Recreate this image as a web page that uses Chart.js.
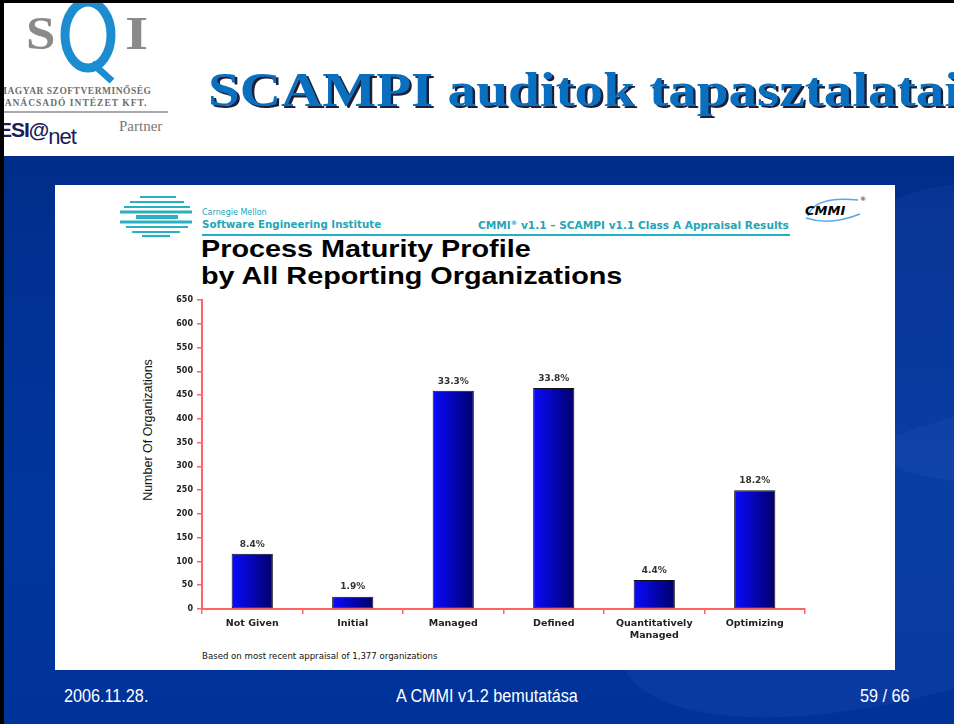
<!DOCTYPE html>
<html>
<head>
<meta charset="utf-8">
<script src="https://cdn.jsdelivr.net/npm/chart.js@4"></script>
<style>
    html, body { margin: 0; padding: 0; }
    body { width: 954px; height: 724px; overflow: hidden; position: relative; background: #000; }
    .slide { position: absolute; left: 4px; top: 3px; right: 0; bottom: 0; overflow: hidden;
        background: linear-gradient(180deg, #00287a 0%, #002f8f 30%, #00379e 70%, #003399 100%); }
    .header { position: absolute; left: 0; top: 0; right: 0; height: 153px; background: #fff; }
    .abs { position: absolute; white-space: nowrap; }
    .swoosh { position: absolute; border-radius: 50%; background: rgba(120, 160, 255, 0.07); }
    .panel { position: absolute; left: 51px; top: 182px; width: 840px; height: 485px; background: #fff; }
    .chart-box { position: absolute; left: 130px; top: 290px; width: 700px; height: 360px; }
    .footer { color: #fff; font-family: 'Liberation Sans', Arial, sans-serif; font-size: 18px; top: 686px; }
</style>
</head>
<body>
<div class="slide">
    <div class="swoosh" style="left:600px; top:420px; width:700px; height:260px; transform: rotate(-18deg);"></div>
    <div class="swoosh" style="left:780px; top:180px; width:400px; height:300px;"></div>

    <div class="header">
        <!-- SQI logo -->
        <div class="abs" style="left:22px; top:4px; font: bold 46px 'Liberation Serif', serif; color:#8a8a8a; transform: scaleX(1.15); transform-origin: left;">S</div>
        <svg class="abs" style="left:52px; top:-8px;" width="70" height="92">
            <ellipse cx="32" cy="40" rx="23" ry="33" fill="none" stroke="#1c8ed0" stroke-width="9"/>
            <line x1="36" y1="68" x2="56" y2="86" stroke="#1c8ed0" stroke-width="7"/>
        </svg>
        <div class="abs" style="left:121px; top:4px; font: bold 46px 'Liberation Serif', serif; color:#8a8a8a; transform: scaleX(1.3); transform-origin: left;">I</div>
        <div class="abs" style="left:-6px; top:83px; font: bold 9.5px 'Liberation Serif', serif; color:#6e6e6e; letter-spacing:0.5px;">MAGYAR SZOFTVERMINŐSÉG</div>
        <div class="abs" style="left:-6px; top:95px; font: bold 9.5px 'Liberation Serif', serif; color:#6e6e6e; letter-spacing:1px;">TANÁCSADÓ INTÉZET KFT.</div>
        <div class="abs" style="left:-4px; top:108px; width:168px; height:2px; background:#aaa;"></div>
        <div class="abs" style="left:-6px; top:114px; font: bold 21px 'Liberation Sans', sans-serif; color:#1b1b5e; letter-spacing:-1px;">ESI@<span style="font-weight:normal; font-size:22px; position:relative; top:7px;">net</span></div>
        <div class="abs" style="left:115px; top:115px; font: 15px 'Liberation Serif', serif; color:#777;">Partner</div>

        <!-- title -->
        <div class="abs" style="left:204px; top:63px; font: bold 48px/48px 'Liberation Serif', serif; color:#0b6fc0; text-shadow: 2px 2px 0 #1b1f3a; transform: scaleX(1.19); transform-origin: left;">SCAMPI auditok tapasztalatai</div>
    </div>

    <div class="panel"></div>
</div>

<!-- panel contents (page coordinates) -->
<svg class="abs" style="left:118px; top:195px;" width="76" height="44">
    <g stroke="#2ab0c2">
        <line x1="22" y1="2" x2="58" y2="2" stroke-width="2.2"/>
        <line x1="12" y1="7" x2="66" y2="7" stroke-width="2.2"/>
        <line x1="6" y1="12" x2="72" y2="12" stroke-width="2.2"/>
        <line x1="2" y1="17" x2="74" y2="17" stroke-width="3"/>
        <line x1="18" y1="22" x2="60" y2="22" stroke-width="4"/>
        <line x1="2" y1="27" x2="74" y2="27" stroke-width="3"/>
        <line x1="8" y1="32" x2="70" y2="32" stroke-width="2.2"/>
        <line x1="14" y1="37" x2="62" y2="37" stroke-width="2.2"/>
        <line x1="24" y1="41" x2="52" y2="41" stroke-width="2.2"/>
    </g>
</svg>
<div class="abs" style="left:202px; top:208px; font: 8px 'DejaVu Sans', sans-serif; color:#22a6b8;">Carnegie Mellon</div>
<div class="abs" style="left:202px; top:219px; font: bold 9.8px 'DejaVu Sans', sans-serif; color:#22a6b8; transform: scaleX(1.05); transform-origin: left;">Software Engineering Institute</div>
<div class="abs" style="left:478px; top:219px; font: bold 9.8px 'DejaVu Sans', sans-serif; color:#22a6b8; transform: scaleX(1.08); transform-origin: left;">CMMI<sup style="font-size:6px;">®</sup> v1.1 – SCAMPI v1.1 Class A Appraisal Results</div>
<div class="abs" style="left:202px; top:234px; width:588px; height:1.5px; background:#22b0c4;"></div>
<svg class="abs" style="left:800px; top:192px;" width="70" height="36">
    <path d="M8 24 Q 14 4 58 8" fill="none" stroke="#58a8e8" stroke-width="1.5"/>
    <path d="M6 26 Q 30 34 60 22" fill="none" stroke="#58a8e8" stroke-width="1.5"/>
    <text x="5" y="23" font-family="DejaVu Sans" font-weight="bold" font-style="italic" font-size="13" fill="#000">CMMI</text>
    <text x="60" y="9" font-family="DejaVu Sans" font-size="6" fill="#000">®</text>
</svg>
<div class="abs" style="left:201px; top:235px; font: bold 24px/27px 'Liberation Sans', Arial, sans-serif; color:#000; transform: scaleX(1.2); transform-origin: left;">Process Maturity Profile<br>by All Reporting Organizations</div>

<div class="abs" style="left:148px; top:430px; font: 12.5px 'Liberation Sans', Arial, sans-serif; color:#111; transform: translate(-50%, -50%) rotate(-90deg);">Number Of Organizations</div>

<div class="chart-box"><canvas id="maturityChart"></canvas></div>

<div class="abs" style="left:202px; top:651px; font: 8.6px 'DejaVu Sans', sans-serif; color:#111;">Based on most recent appraisal of 1,377 organizations</div>

<div class="abs footer" style="left:64px; transform: scaleX(0.9); transform-origin: left;">2006.11.28.</div>
<div class="abs footer" style="left:396px; transform: scaleX(0.9); transform-origin: left;">A CMMI v1.2 bemutatása</div>
<div class="abs footer" style="left:860px; transform: scaleX(0.9); transform-origin: left;">59 / 66</div>

<script>
    const categories = ['Not Given', 'Initial', 'Managed', 'Defined', ['Quantitatively', 'Managed'], 'Optimizing'];
    const organizations = [116, 26, 459, 465, 61, 250];
    const percentLabels = ['8.4%', '1.9%', '33.3%', '33.8%', '4.4%', '18.2%'];
    const yTickStep = 50;
    const yMax = 650;

    const axisRed = '#ff6464';
    const barFraction = 0.41;

    // blue-to-navy shading across each bar, like the original clip art
    const barShade = (context) => {
        const { chart, dataIndex } = context;
        const xScale = chart.scales.x;
        if (!xScale || xScale.width === undefined) {
            return '#0000cc';
        }
        const x = xScale.getPixelForValue(dataIndex);
        const half = (xScale.width / categories.length) * barFraction / 2;
        const gradient = chart.ctx.createLinearGradient(x - half, 0, x + half, 0);
        gradient.addColorStop(0, '#0a0aff');
        gradient.addColorStop(1, '#00006a');
        return gradient;
    };

    const percentOnTop = {
        id: 'percentOnTop',
        afterDatasetsDraw(chart) {
            const ctx = chart.ctx;
            ctx.save();
            ctx.font = 'bold 9px "DejaVu Sans"';
            ctx.fillStyle = '#333';
            ctx.textAlign = 'center';
            ctx.textBaseline = 'bottom';
            chart.getDatasetMeta(0).data.forEach((bar, i) => {
                ctx.fillText(percentLabels[i], bar.x, bar.y - 5);
            });
            ctx.restore();
        },
    };

    new Chart(document.getElementById('maturityChart'), {
        type: 'bar',
        data: {
            labels: categories,
            datasets: [
                {
                    label: 'Number Of Organizations',
                    data: organizations,
                    backgroundColor: barShade,
                    borderColor: '#111',
                    borderWidth: 1,
                    borderSkipped: false,
                    barPercentage: barFraction,
                    categoryPercentage: 1,
                },
            ],
        },
        options: {
            responsive: true,
            maintainAspectRatio: false,
            animation: false,
            layout: {
                padding: { left: 0, right: 25, top: 10, bottom: 0 },
            },
            plugins: {
                legend: { display: false },
                tooltip: { enabled: false },
            },
            scales: {
                x: {
                    afterFit: (scale) => { scale.height = 41; },
                    border: { color: axisRed, width: 2 },
                    grid: {
                        offset: true,
                        drawOnChartArea: false,
                        color: axisRed,
                        tickLength: 5,
                        lineWidth: 1.5,
                    },
                    ticks: {
                        color: '#222',
                        padding: 4,
                        maxRotation: 0,
                        autoSkip: false,
                        font: { family: 'DejaVu Sans', weight: 'bold', size: 9.5, lineHeight: 1.25 },
                    },
                },
                y: {
                    min: 0,
                    max: yMax,
                    afterFit: (scale) => { scale.width = 72; },
                    border: { color: axisRed, width: 2 },
                    grid: {
                        drawOnChartArea: false,
                        color: axisRed,
                        tickLength: 5,
                        lineWidth: 1.5,
                    },
                    ticks: {
                        stepSize: yTickStep,
                        color: '#222',
                        padding: 4,
                        font: { family: 'DejaVu Sans', weight: 'bold', size: 8 },
                    },
                },
            },
        },
    plugins: [percentOnTop],
    });
</script>
</body>
</html>
